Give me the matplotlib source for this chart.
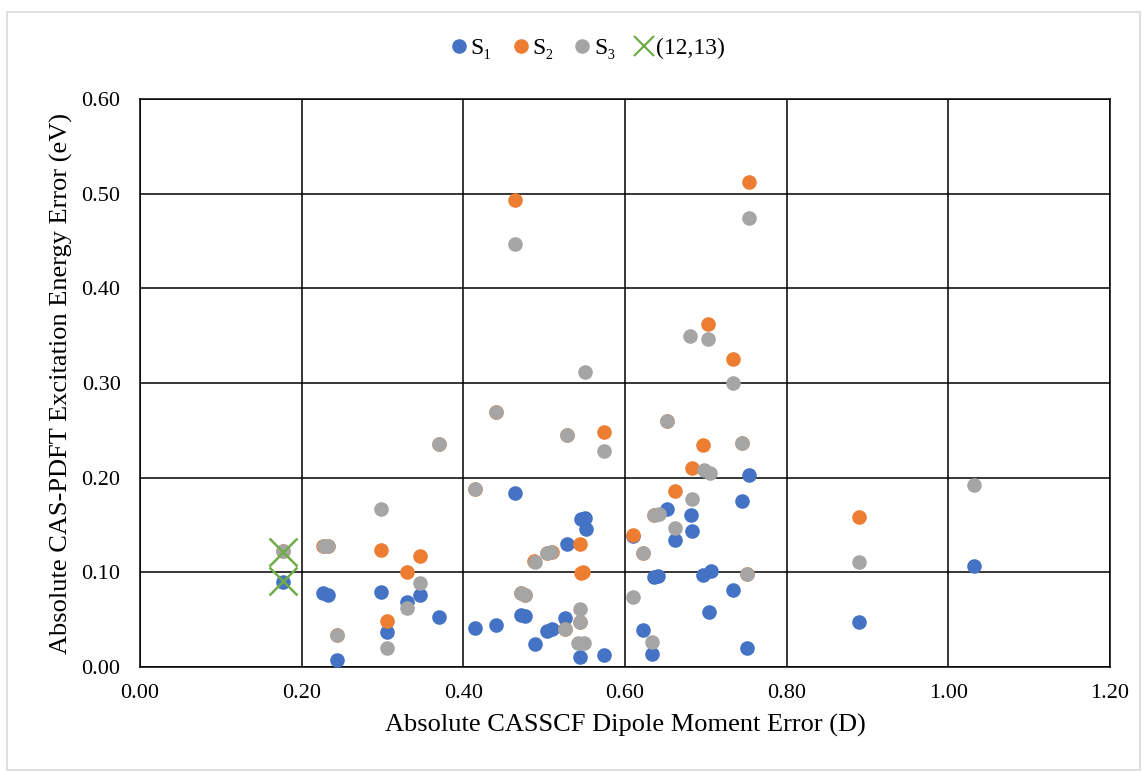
import matplotlib.pyplot as plt
from matplotlib.lines import Line2D
from matplotlib.patches import Rectangle

plt.rcParams['font.family'] = ['Liberation Serif', 'DejaVu Serif']

# S1 state errors
s1_x = [0.177, 0.226, 0.232, 0.244, 0.2986, 0.305, 0.330, 0.3464, 0.3703, 0.4145,
        0.4404, 0.464, 0.4714, 0.4763, 0.4887, 0.5039, 0.5093, 0.5258, 0.5287, 0.545,
        0.5505, 0.5518, 0.5443, 0.574, 0.6095, 0.6227, 0.6338, 0.6363, 0.6412, 0.6523,
        0.662, 0.6817, 0.683, 0.6969, 0.706, 0.7035, 0.734, 0.745, 0.7505, 0.7538,
        0.8896, 1.032]
s1_y = [0.090, 0.078, 0.076, 0.0074, 0.079, 0.0366, 0.069, 0.0764, 0.0525, 0.041,
        0.0444, 0.1835, 0.0549, 0.054, 0.024, 0.0384, 0.040, 0.0514, 0.130, 0.156,
        0.157, 0.1455, 0.0102, 0.0123, 0.138, 0.039, 0.0137, 0.0954, 0.0961, 0.1666,
        0.134, 0.161, 0.1437, 0.0969, 0.1017, 0.058, 0.081, 0.1757, 0.0197, 0.2028,
        0.0475, 0.1067]

# S2 state errors
s2_x = [0.177, 0.226, 0.232, 0.244, 0.2986, 0.305, 0.330, 0.3464, 0.3703, 0.4145,
        0.4404, 0.464, 0.4714, 0.4763, 0.487, 0.5039, 0.5093, 0.5258, 0.5287, 0.5443,
        0.545, 0.5485, 0.5443, 0.574, 0.6095, 0.6227, 0.636, 0.6524, 0.662, 0.6824,
        0.697, 0.703, 0.734, 0.745, 0.7505, 0.7538, 0.8896]
s2_y = [0.123, 0.128, 0.128, 0.034, 0.1236, 0.049, 0.100, 0.117, 0.236, 0.188,
        0.2694, 0.4933, 0.0778, 0.076, 0.112, 0.120, 0.1216, 0.040, 0.245, 0.1296,
        0.0996, 0.1006, 0.048, 0.2486, 0.1394, 0.120, 0.161, 0.260, 0.186, 0.2105,
        0.235, 0.3623, 0.325, 0.237, 0.098, 0.5123, 0.158]

# S3 state errors
s3_x = [0.177, 0.228, 0.232, 0.244, 0.2986, 0.305, 0.330, 0.3464, 0.3703, 0.4145,
        0.4404, 0.464, 0.4714, 0.4763, 0.4887, 0.5039, 0.508, 0.5258, 0.5287, 0.5505,
        0.5443, 0.5443, 0.5423, 0.549, 0.574, 0.6095, 0.6227, 0.6334, 0.636, 0.6425,
        0.6524, 0.662, 0.681, 0.683, 0.6977, 0.7052, 0.703, 0.734, 0.745, 0.7505,
        0.7538, 0.8896, 1.032]
s3_y = [0.123, 0.128, 0.128, 0.034, 0.167, 0.0197, 0.062, 0.089, 0.236, 0.188,
        0.2694, 0.4468, 0.0778, 0.076, 0.111, 0.120, 0.1216, 0.040, 0.245, 0.3116,
        0.0613, 0.048, 0.025, 0.025, 0.2285, 0.0743, 0.120, 0.0268, 0.161, 0.162,
        0.260, 0.1465, 0.3497, 0.177, 0.208, 0.2045, 0.347, 0.2997, 0.237, 0.098,
        0.474, 0.111, 0.192]

# (12,13) active space
x1213 = [0.177, 0.177]
y1213 = [0.122, 0.091]

blue = '#4472C4'
orange = '#ED7D31'
gray = '#A5A5A5'
green = '#70AD47'

fig = plt.figure(figsize=(11.43, 7.73), dpi=100)
ax = fig.add_axes([140 / 1143, 1 - 667 / 773, 970 / 1143, 568 / 773])

ms = 10.5
ax.plot(s1_x, s1_y, 'o', color=blue, ms=ms, mew=0, zorder=3)
ax.plot(s2_x, s2_y, 'o', color=orange, ms=ms, mew=0, zorder=4)
ax.plot(s3_x, s3_y, 'o', color=gray, ms=ms, mew=0, zorder=5)
ax.plot(x1213, y1213, 'x', color=green, ms=20, mew=1.8, zorder=6)

ax.set_xlim(0, 1.2)
ax.set_ylim(0, 0.6)
ax.set_xticks([0, 0.2, 0.4, 0.6, 0.8, 1.0, 1.2])
ax.set_yticks([0, 0.1, 0.2, 0.3, 0.4, 0.5, 0.6])
ax.xaxis.set_major_formatter(lambda v, p: f'{v:.2f}')
ax.yaxis.set_major_formatter(lambda v, p: f'{v:.2f}')
ax.tick_params(length=0, labelsize=16, colors='black')
ax.tick_params(axis='x', pad=12)
ax.tick_params(axis='y', pad=14)
ax.grid(True, color='black', lw=1.1, zorder=1)
ax.set_axisbelow(True)
for s in ax.spines.values():
    s.set_color('black')
    s.set_linewidth(1.1)

ax.set_xlabel('Absolute CASSCF Dipole Moment Error (D)', fontsize=19, labelpad=8)
ax.set_ylabel('Absolute CAS-PDFT Excitation Energy Error (eV)', fontsize=19, labelpad=6)

handles = [
    Line2D([], [], ls='none', marker='o', color=blue, ms=ms, mew=0),
    Line2D([], [], ls='none', marker='o', color=orange, ms=ms, mew=0),
    Line2D([], [], ls='none', marker='o', color=gray, ms=ms, mew=0),
    Line2D([], [], ls='none', marker='x', color=green, ms=14, mew=1.6),
]
labels = ['S\u2081', 'S\u2082', 'S\u2083', '(12,13)']
fig.legend(handles, labels, loc='center', bbox_to_anchor=(587 / 1143, 1 - 48 / 773),
           ncol=4, frameon=False, fontsize=17, handlelength=0.8, handletextpad=0.1,
           columnspacing=0.8)

# chart area border
fig.patches.append(Rectangle((7 / 1143, 3 / 773), 1133 / 1143, 758 / 773,
                             transform=fig.transFigure, fill=False,
                             edgecolor='#D9D9D9', lw=1.2))

fig.savefig('out.png', dpi=100)
